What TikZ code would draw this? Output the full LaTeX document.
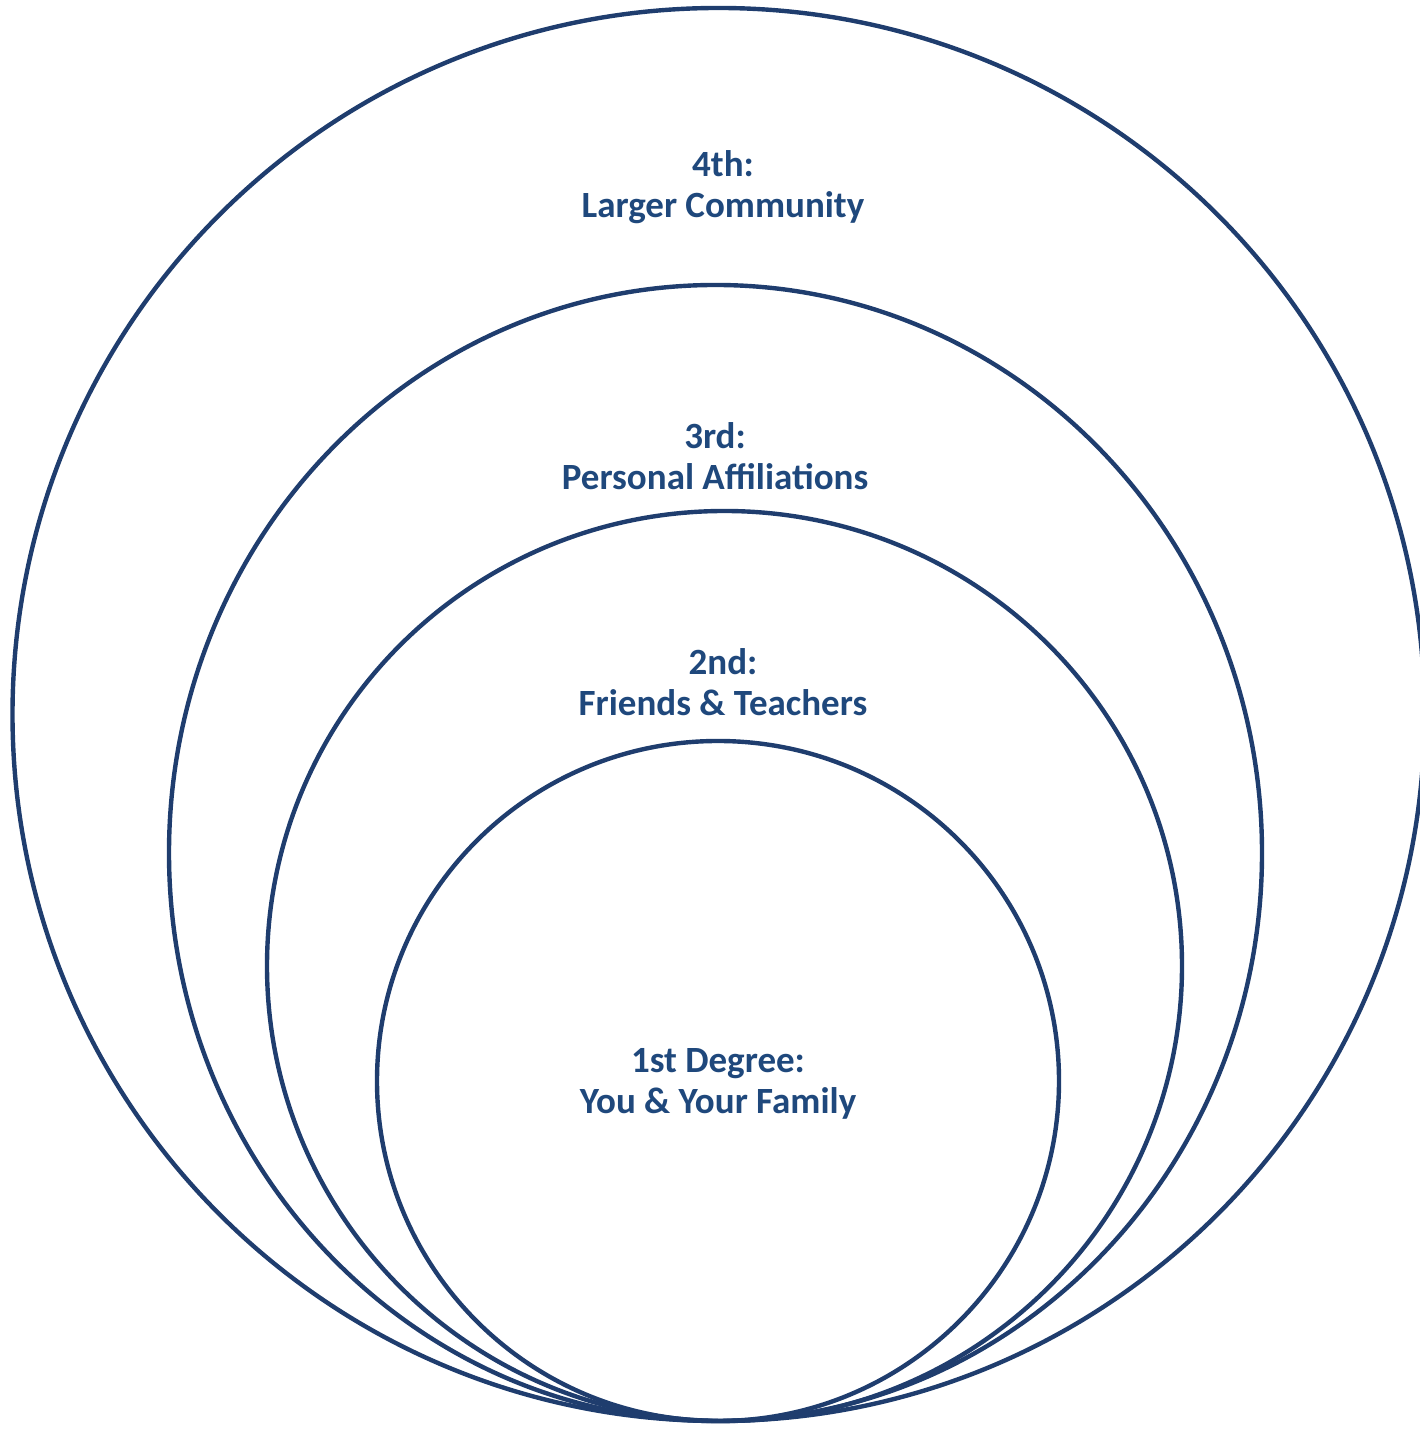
\documentclass[tikz,border=0pt]{standalone}
\usepackage{fontspec}
\setmainfont{Carlito}
\definecolor{ringblue}{HTML}{1F3D6E}
\definecolor{textblue}{HTML}{1F487C}
\begin{document}
\begin{tikzpicture}[x=1pt,y=1pt,
  ring/.style={draw=ringblue,line width=4.4pt},
  lbl/.style={text=textblue,align=center,font=\bfseries\fontsize{37}{41}\selectfont,inner sep=0pt}]
\useasboundingbox (0,0) rectangle (1420,1431);
\clip (0,0) rectangle (1420,1431);
% rings (image y -> 1431 - y)
\draw[ring] (718.5,716.5) ellipse [x radius=706, y radius=706.5];
\draw[ring] (715.5,578) ellipse [x radius=546.5, y radius=568];
\draw[ring] (724.5,465) ellipse [x radius=457.5, y radius=455];
\draw[ring] (718,350) ellipse [x radius=341, y radius=340];
% labels
\node[lbl] (l4) at (723,1244) {4th:\\Larger Community};
\node[lbl] (l3) at (715,975) {3rd:\\Personal Affiliations};
\node[lbl] (l2) at (723,749) {2nd:\\Friends \& Teachers};
\node[lbl] (l1) at (718,347) {1st Degree:\\You \& Your Family};
\end{tikzpicture}
\end{document}
